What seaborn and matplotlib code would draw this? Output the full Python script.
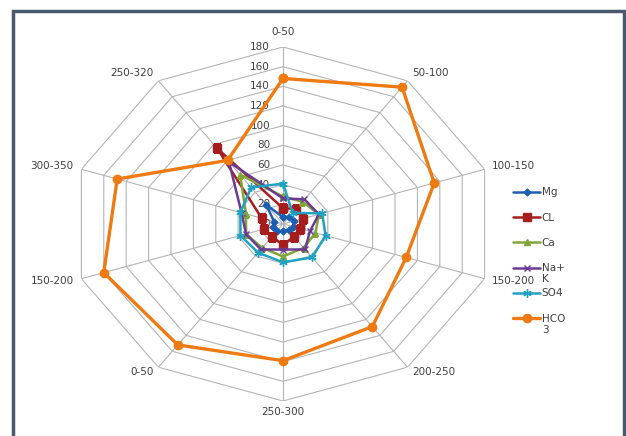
import numpy as np
import pandas as pd
import matplotlib
matplotlib.use("Agg")
import matplotlib.pyplot as plt
from matplotlib.patches import Rectangle
from matplotlib.text import Annotation
import seaborn as sns

sns.set_theme(style="white")
plt.rcParams["font.family"] = ["DejaVu Sans"]

# Depth classes around the radar (clockwise from the top)
categories = ["0-50", "50-100", "100-150", "150-200", "200-250",
              "250-300", "0-50", "150-200", "300-350", "250-320"]

# Ion concentrations per class
mg = [7, 9, 10, 9, 8, 7, 9, 9, 8, 24]
cl = [16, 19, 18, 15, 16, 21, 16, 17, 19, 95]
ca = [28, 28, 32, 29, 30, 33, 30, 33, 33, 62]
na_k = [26, 31, 32, 24, 32, 26, 32, 33, 37, 78]
so4 = [41, 14, 35, 38, 42, 39, 36, 38, 38, 46]
hco3 = [148, 172, 135, 110, 129, 139, 152, 160, 148, 80]

radial_ticks = list(range(0, 181, 20))

series = [
    ("Mg", mg, "#1c5fb0", "D", 3.5),
    ("CL", cl, "#a61d1d", "s", 5.5),
    ("Ca", ca, "#80a635", "^", 5.0),
    ("Na+", na_k, "#6b3a96", "x", 5.0),
    ("SO4", so4, "#1fa2c2", (6, 2, 0), 6.0),
    ("HCO", hco3, "#ee7a12", "o", 6.0),
]

n = len(categories)
theta = np.linspace(0, 2 * np.pi, n, endpoint=False)
theta_closed = np.append(theta, 2 * np.pi)

W, H = 626, 436
fig = plt.figure(figsize=(W / 100, H / 100), dpi=100)
fig.patch.set_facecolor("white")

cx, cy, rx, ry = 283, 224, 212, 177
ax = fig.add_axes([(cx - rx) / W, (H - cy - ry) / H, 2 * rx / W, 2 * ry / H],
                  projection="polar")
ax.set_aspect("auto")
ax.set_theta_zero_location("N")
ax.set_theta_direction(-1)
ax.set_ylim(0, 180)
ax.grid(False)
ax.spines["polar"].set_visible(False)
ax.set_xticks([])
ax.set_yticks([])
ax.patch.set_alpha(0)

grid_color = "#b4b4b4"
# polygonal web
for r in radial_ticks[1:]:
    ax.plot(theta_closed, [r] * (n + 1), color=grid_color, lw=0.8, zorder=1)
for t in theta:
    ax.plot([t, t], [0, 180], color=grid_color, lw=0.8, zorder=1)

text_color = "#404040"
fs = 7.5

# radial value labels along the top spoke
for r in radial_ticks:
    ax.annotate(str(r), xy=(0, r), xytext=(-13, 0), textcoords="offset pixels",
                ha="right", va="center", fontsize=fs, color=text_color, zorder=2)

# category labels outside the web
for t, lab in zip(theta, categories):
    sx, sy = np.sin(t), np.cos(t)
    if abs(sx) < 0.1:
        ha = "center"
    else:
        ha = "left" if sx > 0 else "right"
    if sy > 0.95:
        va = "bottom"
    elif sy < -0.95:
        va = "top"
    else:
        va = "center"
    dx = 8 * sx
    dy = 10 * sy if sy > 0 else 6 * sy
    ax.annotate(lab, xy=(t, 180), xytext=(dx, dy), textcoords="offset pixels",
                ha=ha, va=va, fontsize=fs, color=text_color)

for i, (name, vals, color, marker, ms) in enumerate(series):
    vals_closed = list(vals) + [vals[0]]
    lw = 2.4 if name == "HCO" else 1.8
    sns.lineplot(x=theta_closed, y=vals_closed, ax=ax, sort=False,
                 color=color, marker=marker, markersize=ms, lw=lw,
                 markeredgecolor=color, markeredgewidth=1.0,
                 label=name, zorder=3 + i, legend=False)
ax.set_xlabel("")
ax.set_ylabel("")

lines = ax.get_lines()[-len(series):]
leg = fig.legend(lines, [s[0] for s in series], loc="upper left",
                 bbox_to_anchor=(508 / W, 1 - 182 / H),
                 bbox_transform=fig.transFigure, frameon=False,
                 fontsize=fs, handlelength=2.6, handletextpad=0.15,
                 labelspacing=1.47, borderpad=0)
for t in leg.get_texts():
    t.set_color(text_color)

# wrapped second lines of the longer legend labels
texts = leg.get_texts()
for idx, extra in [(3, "K"), (5, "3")]:
    ann = Annotation(extra, xy=(0, 0), xycoords=texts[idx], xytext=(0, -1),
                     textcoords="offset pixels", ha="left", va="top",
                     fontsize=fs, color=text_color)
    ann.set_zorder(20)
    fig.add_artist(ann)

# chart frame
fig.add_artist(Rectangle((13 / W, -0.05), (624 - 13) / W, 1.05 - 11 / H,
                         transform=fig.transFigure, fill=False,
                         edgecolor="#4a5a6e", lw=2.5))

fig.savefig("out.png", dpi=100)
